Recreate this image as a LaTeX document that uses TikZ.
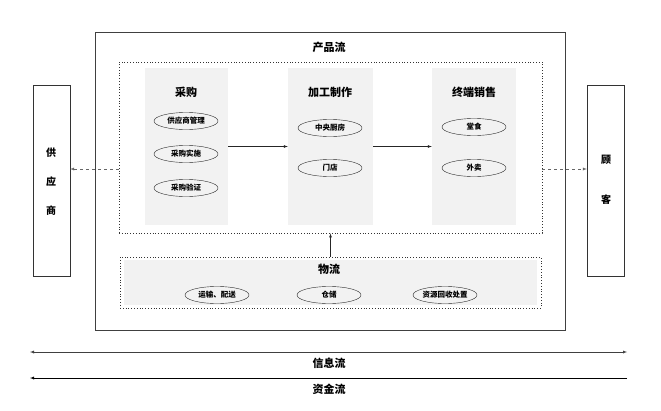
\documentclass[tikz,border=0pt]{standalone}
\usepackage{fontspec}
\setmainfont{Noto Sans CJK SC}
\usetikzlibrary{shapes.geometric}
\definecolor{panelgray}{RGB}{242,242,242}
\tikzset{
  partybox/.style={draw=black!80, minimum width=37, minimum height=191, inner sep=0pt},
  dotbox/.style={draw=black!80, dotted, thick, inner sep=0pt},
  column/.style={fill=panelgray, draw=none, inner sep=0pt},
  coltitle/.style={font=\fontsize{11}{13}\selectfont\bfseries},
  item/.style={ellipse, draw=black!85, minimum width=64, minimum height=17, inner sep=0pt, font=\fontsize{7.5}{8}\selectfont\bfseries},
  flowline/.style={-latex, black!85},
  sideflow/.style={-latex, dashed, black!60},
}
\begin{document}
\begin{tikzpicture}[x=1pt,y=1pt,yscale=-1]
  \useasboundingbox (0,0) rectangle (661,410);

  % outer frame and product flow
  \draw[black!75] (95,32) rectangle (565,330);
  \node[coltitle] (prodlabel) at (329,47) {产品流};
  \node[dotbox, minimum width=423, minimum height=171] (main) at (330.5,147.5) {};

  % three stages
  \node[column, minimum width=83, minimum height=157] (buy) at (186.5,146.5) {};
  \node[column, minimum width=85, minimum height=157] (make) at (330.5,146.5) {};
  \node[column, minimum width=84, minimum height=157] (sell) at (474,146.5) {};

  \node[coltitle] (buyT) at (186,92) {采购};
  \node[item] (b1) at (186,121) {供应商管理};
  \node[item] (b2) at (186,154) {采购实施};
  \node[item] (b3) at (186,188) {采购验证};

  \node[coltitle] (makeT) at (330,92) {加工制作};
  \node[item] (m1) at (330,128) {中央厨房};
  \node[item] (m2) at (330,168) {门店};

  \node[coltitle] (sellT) at (474,92) {终端销售};
  \node[item] (s1) at (474,127) {堂食};
  \node[item] (s2) at (474,168) {外卖};

  \draw[flowline] (buy.east) -- (make.west);
  \draw[flowline] (make.east) -- (sell.west);

  % logistics
  \node[dotbox, minimum width=421, minimum height=51] (logi) at (330.5,282.5) {};
  \node[column, minimum width=413, minimum height=45] (logiIn) at (330.5,282.5) {};
  \node[coltitle] (logiT) at (329,269) {物流};
  \node[item] (l1) at (217,295) {运输、配送};
  \node[item] (l2) at (329,295) {仓储};
  \node[item] (l3) at (445,295) {资源回收处置};
  \draw[flowline] (logi.north) -- (main.south);

  % supplier and customer
  \node[partybox] (sup) at (51.5,180.5) {};
  \node[align=center, font=\fontsize{10}{29}\selectfont\bfseries] (supT) at (51,182) {供\\应\\商};
  \node[partybox] (cus) at (605.5,180.5) {};
  \node[align=center, font=\fontsize{10}{40}\selectfont\bfseries] (cusT) at (606,180) {顾\\客};

  \coordinate (lvl) at (330,169);
  \draw[sideflow] (lvl -| main.west) -- (lvl -| sup.east);
  \draw[sideflow] (lvl -| main.east) -- (lvl -| cus.west);

  % information and money flows
  \coordinate (infoL) at (30,352);
  \coordinate (infoR) at (627,352);
  \coordinate (cashL) at (30,378);
  \coordinate (cashR) at (627,378);
  \draw[latex-latex, black!75] (infoL) -- (infoR);
  \node[coltitle] (infoT) at (329,363) {信息流};
  \draw[-latex, black] (cashR) -- (cashL);
  \node[coltitle] (cashT) at (329,389) {资金流};
\end{tikzpicture}
\end{document}
